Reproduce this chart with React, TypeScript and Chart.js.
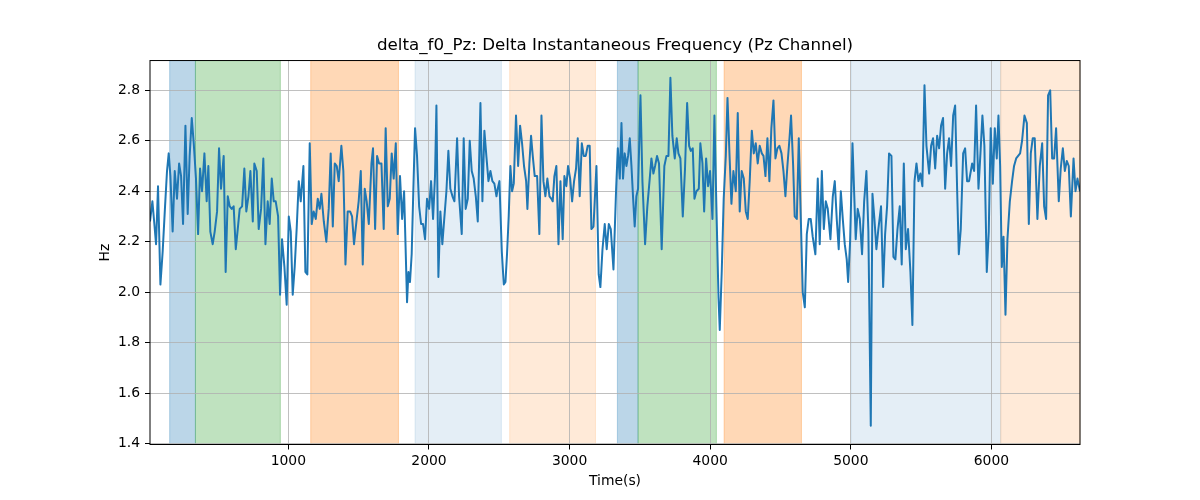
import React, { useEffect, useRef } from "react"
import { Chart, registerables } from "chart.js"

Chart.register(...registerables)

const chartTitle = "delta_f0_Pz: Delta Instantaneous Frequency (Pz Channel)"
const xLabel = "Time(s)"
const yLabel = "Hz"

// time of each sample (s)
const timeSec = [
  16, 33, 47, 59, 73, 90, 106, 123, 137, 149, 161, 177, 192, 208, 223, 237, 251, 268, 284, 298,
  313, 327, 343, 358, 372, 386, 403, 419, 431, 445, 462, 476, 493, 507, 521, 540, 554, 569, 583, 597,
  611, 626, 640, 654, 671, 687, 701, 716, 730, 747, 758, 775, 789, 806, 822, 837, 853,
  867, 882, 896, 910, 927, 941, 955, 972, 988, 1003, 1017, 1031, 1045, 1059, 1074, 1088, 1107, 1121, 1135, 1152,
  1166, 1180, 1195, 1209, 1223, 1235, 1252, 1270, 1287, 1301, 1316, 1330, 1344, 1358, 1377, 1391, 1406, 1422, 1439, 1453,
  1467, 1486, 1500, 1515, 1529, 1543, 1557, 1572, 1591, 1602, 1617, 1631, 1645, 1662, 1678,
  1692, 1707, 1721, 1735, 1749, 1764, 1778, 1794, 1809, 1823, 1835, 1844, 1854, 1865, 1877, 1889, 1901, 1915, 1930, 1944,
  1958, 1972, 1986, 2001, 2015, 2029, 2043, 2053, 2067, 2081, 2095, 2110, 2124, 2138, 2152, 2167, 2181, 2200, 2214, 2233,
  2247, 2261, 2276, 2290, 2304, 2318, 2333, 2347, 2366, 2380, 2394, 2408, 2423, 2437, 2451, 2465, 2480, 2489, 2501, 2518,
  2532, 2544, 2555, 2567, 2579, 2591, 2603, 2619, 2634, 2648, 2662, 2676, 2691, 2700, 2714, 2726, 2738, 2752, 2769, 2785,
  2800, 2814, 2828, 2842, 2857, 2871, 2880, 2892, 2906, 2921, 2935, 2951, 2963, 2977, 2989, 3004, 3018, 3032, 3046, 3058,
  3072, 3087, 3101, 3115, 3129, 3143, 3155, 3170, 3191, 3207, 3219, 3234, 3250, 3264, 3279, 3293, 3312, 3331, 3343,
  3357, 3369, 3380, 3392, 3404, 3416, 3428, 3440, 3452, 3463, 3475, 3487, 3504, 3518, 3537, 3553, 3570, 3582, 3596, 3608,
  3622, 3636, 3655, 3674, 3689, 3703, 3717, 3731, 3748, 3762, 3774, 3788, 3805, 3821, 3836, 3850, 3862, 3876, 3888, 3902,
  3919, 3930, 3945, 3957, 3971, 3985, 3999, 4016, 4030, 4044, 4059, 4068, 4082, 4096, 4111, 4123, 4137, 4151, 4165, 4182,
  4196, 4210, 4224, 4239, 4253, 4267, 4281, 4296, 4310, 4324, 4338, 4352, 4367, 4379, 4393, 4407, 4421, 4435, 4450, 4464,
  4478, 4492, 4507, 4521, 4535, 4549, 4564, 4575, 4590, 4601, 4616, 4630, 4644, 4658, 4673, 4687, 4701, 4715, 4729, 4748,
  4765, 4779, 4794, 4808, 4822, 4836, 4855, 4872, 4886, 4900, 4914, 4929, 4943, 4957, 4971, 4981, 4995, 5012,
  5035, 5049, 5064, 5080, 5095, 5111, 5125, 5142, 5154, 5168, 5182, 5196, 5215, 5230, 5244, 5258, 5272, 5289, 5303, 5317,
  5332, 5348, 5362, 5377, 5391, 5407, 5424, 5438, 5453, 5467, 5481, 5495, 5509, 5524, 5538, 5557, 5571, 5585, 5600, 5614,
  5628, 5642, 5656, 5671, 5685, 5699, 5713, 5728, 5742, 5756, 5768, 5782, 5799, 5813, 5827, 5841,
  5863, 5877, 5891, 5908, 5922, 5936, 5950, 5967, 5981, 5995, 6010, 6024, 6038, 6050, 6062, 6074, 6086, 6100, 6114, 6131,
  6147, 6161, 6176, 6190, 6204, 6218, 6235, 6252, 6266, 6280, 6294, 6308, 6327, 6344, 6361, 6375, 6389, 6403, 6418, 6432,
  6446, 6460, 6479, 6493, 6508, 6522, 6536, 6550, 6565, 6584, 6598, 6612, 6630,
]

// delta instantaneous frequency (Hz)
const freqHz = [
  2.28, 2.36, 2.27, 2.19, 2.42, 2.03, 2.16, 2.34, 2.48, 2.55, 2.46, 2.24, 2.48, 2.37, 2.51, 2.46, 2.27, 2.66, 2.31, 2.54,
  2.69, 2.59, 2.45, 2.23, 2.49, 2.40, 2.55, 2.36, 2.50, 2.24, 2.19, 2.24, 2.32, 2.57, 2.41, 2.54, 2.08, 2.38, 2.34, 2.33,
  2.34, 2.17, 2.25, 2.33, 2.34, 2.49, 2.32, 2.38, 2.48, 2.28, 2.51, 2.48, 2.25, 2.33, 2.53, 2.19, 2.36,
  2.27, 2.45, 2.36, 2.36, 2.30, 1.99, 2.21, 2.10, 1.95, 2.30, 2.24, 1.99, 2.10, 2.25, 2.44, 2.36, 2.50, 2.08, 2.07, 2.59,
  2.27, 2.32, 2.29, 2.37, 2.33, 2.39, 2.28, 2.20, 2.33, 2.55, 2.26, 2.51, 2.50, 2.44, 2.58, 2.48, 2.11, 2.32, 2.32, 2.30,
  2.19, 2.29, 2.36, 2.48, 2.11, 2.41, 2.36, 2.27, 2.51, 2.57, 2.25, 2.54, 2.51, 2.51, 2.25,
  2.65, 2.34, 2.37, 2.55, 2.45, 2.59, 2.23, 2.46, 2.29, 2.40, 2.15, 1.96, 2.08, 2.04, 2.15, 2.41, 2.65, 2.54, 2.34, 2.27,
  2.27, 2.21, 2.37, 2.33, 2.44, 2.29, 2.46, 2.74, 2.06, 2.32, 2.19, 2.30, 2.40, 2.56, 2.41, 2.38, 2.36, 2.61, 2.38, 2.23,
  2.61, 2.33, 2.37, 2.60, 2.48, 2.45, 2.38, 2.28, 2.75, 2.36, 2.64, 2.54, 2.44, 2.48, 2.44, 2.43, 2.38, 2.41, 2.44, 2.16,
  2.03, 2.04, 2.15, 2.30, 2.50, 2.40, 2.43, 2.70, 2.50, 2.66, 2.59, 2.50, 2.44, 2.33, 2.51, 2.62, 2.54, 2.46, 2.46, 2.23,
  2.70, 2.44, 2.38, 2.45, 2.38, 2.37, 2.36, 2.46, 2.50, 2.19, 2.44, 2.21, 2.46, 2.42, 2.50, 2.45, 2.36, 2.44, 2.49, 2.61,
  2.38, 2.59, 2.54, 2.54, 2.58, 2.58, 2.25, 2.26, 2.50, 2.07, 2.02, 2.17, 2.27, 2.17, 2.27, 2.25, 2.09, 2.41, 2.57,
  2.45, 2.67, 2.45, 2.55, 2.50, 2.54, 2.61, 2.50, 2.37, 2.26, 2.38, 2.41, 2.78, 2.44, 2.19, 2.34, 2.45, 2.53, 2.47, 2.50,
  2.54, 2.51, 2.17, 2.50, 2.54, 2.54, 2.85, 2.62, 2.53, 2.61, 2.55, 2.53, 2.30, 2.49, 2.75, 2.58, 2.56, 2.57, 2.37, 2.40,
  2.41, 2.59, 2.51, 2.32, 2.53, 2.42, 2.48, 2.29, 2.70, 2.34, 1.98, 1.85, 2.08, 2.37, 2.54, 2.77, 2.55, 2.35, 2.48, 2.40,
  2.71, 2.32, 2.48, 2.45, 2.32, 2.29, 2.44, 2.64, 2.55, 2.59, 2.51, 2.58, 2.55, 2.54, 2.46, 2.61, 2.44, 2.65, 2.76, 2.53,
  2.57, 2.58, 2.55, 2.48, 2.38, 2.50, 2.61, 2.70, 2.50, 2.30, 2.29, 2.61, 2.30, 2.00, 1.94, 2.23, 2.29, 2.29, 2.22, 2.15,
  2.45, 2.19, 2.48, 2.25, 2.36, 2.33, 2.21, 2.38, 2.44, 2.29, 2.17, 2.40, 2.29, 2.19, 2.13, 2.04, 2.20, 2.59,
  2.21, 2.33, 2.29, 2.15, 2.36, 2.48, 2.24, 1.47, 2.39, 2.29, 2.17, 2.25, 2.34, 2.02, 2.23, 2.34, 2.55, 2.54, 2.14, 2.13,
  2.25, 2.34, 2.11, 2.51, 2.17, 2.25, 2.08, 1.87, 2.44, 2.51, 2.44, 2.47, 2.42, 2.82, 2.58, 2.47, 2.58, 2.61, 2.49, 2.62,
  2.57, 2.66, 2.69, 2.41, 2.55, 2.61, 2.50, 2.70, 2.74, 2.41, 2.15, 2.25, 2.55, 2.57, 2.44, 2.44,
  2.51, 2.48, 2.74, 2.41, 2.55, 2.70, 2.58, 2.08, 2.24, 2.65, 2.43, 2.65, 2.53, 2.70, 2.50, 2.10, 2.22, 1.91, 2.21, 2.36,
  2.44, 2.50, 2.53, 2.54, 2.55, 2.60, 2.70, 2.67, 2.27, 2.55, 2.61, 2.61, 2.29, 2.50, 2.59, 2.34, 2.29, 2.78, 2.80, 2.53,
  2.53, 2.65, 2.36, 2.49, 2.57, 2.48, 2.52, 2.50, 2.30, 2.53, 2.40, 2.45, 2.40,
]

const xTicks = [1000, 2000, 3000, 4000, 5000, 6000]
const yTicks = [1.4, 1.6, 1.8, 2.0, 2.2, 2.4, 2.6, 2.8]

// shaded segments (s)
const spanStart = [156, 339, 1159, 1901, 2574, 3340, 3487, 4099, 5005, 6066]
const spanEnd = [339, 943, 1783, 2515, 3184, 3487, 4044, 4649, 6066, 6630]
const spanColor = [
  "rgba(31,119,180,0.3)",
  "rgba(44,160,44,0.3)",
  "rgba(255,127,14,0.3)",
  "rgba(31,119,180,0.12)",
  "rgba(255,127,14,0.16)",
  "rgba(31,119,180,0.3)",
  "rgba(44,160,44,0.3)",
  "rgba(255,127,14,0.3)",
  "rgba(31,119,180,0.12)",
  "rgba(255,127,14,0.16)",
]

const spansPlugin = {
  id: "spans",
  beforeDraw(chart: any) {
    const { ctx, chartArea, scales } = chart
    const h = chartArea.bottom - chartArea.top
    ctx.save()
    spanStart.forEach((s, i) => {
      const x0 = scales.x.getPixelForValue(s)
      const x1 = scales.x.getPixelForValue(spanEnd[i])
      ctx.fillStyle = spanColor[i]
      ctx.fillRect(x0, chartArea.top, x1 - x0, h)
      ctx.strokeStyle = spanColor[i]
      ctx.lineWidth = 1
      ctx.strokeRect(x0, chartArea.top, x1 - x0, h)
    })
    ctx.restore()
  },
}

const framePlugin = {
  id: "frame",
  afterDraw(chart: any) {
    const { ctx, chartArea } = chart
    ctx.save()
    ctx.strokeStyle = "#000"
    ctx.lineWidth = 1
    ctx.strokeRect(chartArea.left, chartArea.top, chartArea.right - chartArea.left, chartArea.bottom - chartArea.top)
    ctx.restore()
  },
}

export default function App() {
  const ref = useRef<HTMLCanvasElement>(null)

  useEffect(() => {
    if (!ref.current) return
    Chart.defaults.font.family = "'DejaVu Sans', sans-serif"
    Chart.defaults.color = "#000"

    const chart = new Chart(ref.current, {
      type: "line",
      data: {
        datasets: [
          {
            data: timeSec.map((t, i) => ({ x: t, y: freqHz[i] })),
            borderColor: "#1f77b4",
            borderWidth: 2,
            borderJoinStyle: "round",
            pointRadius: 0,
            tension: 0,
            fill: false,
          },
        ],
      },
      options: {
        animation: false,
        responsive: false,
        devicePixelRatio: 1,
        layout: { padding: { left: 0, right: 120, top: 0, bottom: 0 } },
        plugins: {
          legend: { display: false },
          tooltip: { enabled: false },
          title: {
            display: true,
            text: chartTitle,
            fullSize: false,
            color: "#000",
            font: { size: 16.7, weight: "normal" },
            padding: { top: 36, bottom: 4.5 },
          },
        },
        scales: {
          x: {
            type: "linear",
            min: 16,
            max: 6630,
            afterBuildTicks: (axis: any) => {
              axis.ticks = xTicks.map((v) => ({ value: v }))
            },
            afterFit: (axis: any) => {
              axis.height = 55.5
            },
            ticks: {
              callback: (v: any) => String(v),
              font: { size: 13.9 },
              padding: 4,
              maxRotation: 0,
            },
            grid: { color: "#b0b0b0", lineWidth: 0.8, tickColor: "#000", tickLength: 5, tickWidth: 1 },
            border: { display: false },
            title: {
              display: true,
              text: xLabel,
              font: { size: 13.9 },
              padding: { top: 0, bottom: 10.7 },
            },
          },
          y: {
            type: "linear",
            min: 1.396,
            max: 2.918,
            afterBuildTicks: (axis: any) => {
              axis.ticks = yTicks.map((v) => ({ value: v }))
            },
            afterFit: (axis: any) => {
              axis.width = 150
            },
            ticks: {
              callback: (v: any) => Number(v).toFixed(1),
              font: { size: 13.9 },
              padding: 5,
            },
            grid: { color: "#b0b0b0", lineWidth: 0.8, tickColor: "#000", tickLength: 5, tickWidth: 1 },
            border: { display: false },
            title: {
              display: true,
              text: yLabel,
              font: { size: 13.9 },
              padding: { top: 96.7, bottom: 0 },
            },
          },
        },
      },
      plugins: [spansPlugin, framePlugin],
    })

    return () => {
      chart.destroy()
    }
  }, [])

  return (
    <div style={{ position: "absolute", left: 0, top: 0, width: 1200, height: 500, background: "#fff" }}>
      <canvas ref={ref} width={1200} height={500} style={{ display: "block" }} />
    </div>
  )
}
